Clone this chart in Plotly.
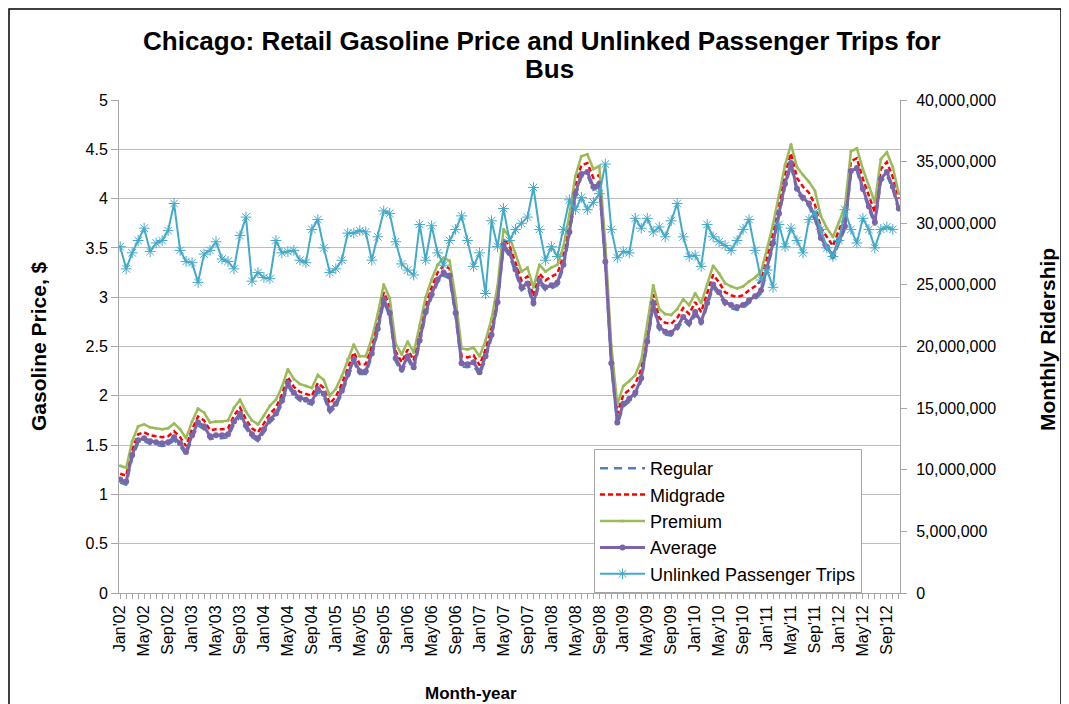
import plotly.graph_objects as go

# Month index 0 = Jan'02 ... 130 = Nov'12
average = [
    1.15, 1.13, 1.40, 1.55, 1.57, 1.54, 1.53, 1.52, 1.53, 1.58, 1.52, 1.43,
    1.60, 1.73, 1.69, 1.59, 1.60, 1.60, 1.61, 1.74, 1.82, 1.70, 1.61, 1.57,
    1.66, 1.76, 1.82, 1.95, 2.13, 2.03, 1.98, 1.96, 1.94, 2.07, 2.02, 1.86,
    1.92, 2.05, 2.22, 2.37, 2.25, 2.25, 2.43, 2.68, 2.98, 2.84, 2.38, 2.27,
    2.40, 2.29, 2.56, 2.85, 3.03, 3.18, 3.25, 3.22, 2.84, 2.33, 2.32, 2.34,
    2.24, 2.40, 2.62, 2.95, 3.53, 3.45, 3.28, 3.10, 3.14, 2.94, 3.17, 3.10,
    3.12, 3.15, 3.33, 3.66, 4.05, 4.25, 4.27, 4.12, 4.15, 3.36, 2.33, 1.73,
    1.92, 1.97, 2.03, 2.18, 2.55, 2.94, 2.70, 2.65, 2.64, 2.70, 2.80, 2.74,
    2.85, 2.75, 2.94, 3.13, 3.05, 2.95, 2.92, 2.90, 2.92, 2.97, 3.01, 3.07,
    3.30, 3.55, 3.85, 4.15, 4.36, 4.10, 4.01, 3.95, 3.82, 3.60, 3.51, 3.42,
    3.58, 3.72, 4.28, 4.31, 4.10, 3.92, 3.76, 4.20, 4.27, 4.12, 3.90,
]

regular = [
    1.12, 1.10, 1.37, 1.52, 1.54, 1.51, 1.50, 1.49, 1.50, 1.55, 1.49, 1.40,
    1.57, 1.70, 1.66, 1.56, 1.57, 1.57, 1.58, 1.71, 1.79, 1.67, 1.58, 1.54,
    1.63, 1.73, 1.79, 1.92, 2.10, 2.00, 1.95, 1.93, 1.91, 2.04, 1.99, 1.83,
    1.89, 2.02, 2.19, 2.34, 2.22, 2.22, 2.40, 2.65, 2.95, 2.81, 2.35, 2.24,
    2.37, 2.26, 2.53, 2.82, 3.00, 3.15, 3.22, 3.19, 2.81, 2.30, 2.29, 2.31,
    2.21, 2.37, 2.59, 2.92, 3.50, 3.42, 3.25, 3.07, 3.11, 2.91, 3.14, 3.07,
    3.09, 3.12, 3.30, 3.63, 4.02, 4.22, 4.24, 4.09, 4.12, 3.33, 2.30, 1.70,
    1.89, 1.94, 2.00, 2.15, 2.52, 2.91, 2.67, 2.62, 2.61, 2.67, 2.77, 2.71,
    2.82, 2.72, 2.91, 3.10, 3.02, 2.92, 2.89, 2.87, 2.89, 2.94, 2.98, 3.04,
    3.27, 3.52, 3.82, 4.12, 4.33, 4.07, 3.98, 3.92, 3.79, 3.57, 3.48, 3.39,
    3.55, 3.69, 4.25, 4.28, 4.07, 3.89, 3.73, 4.17, 4.24, 4.09, 3.87,
]

midgrade = [
    1.21, 1.19, 1.46, 1.61, 1.63, 1.60, 1.59, 1.58, 1.59, 1.64, 1.58, 1.49,
    1.66, 1.79, 1.75, 1.65, 1.66, 1.66, 1.67, 1.80, 1.88, 1.76, 1.67, 1.63,
    1.72, 1.82, 1.88, 2.01, 2.19, 2.09, 2.04, 2.02, 2.00, 2.13, 2.08, 1.92,
    1.99, 2.12, 2.29, 2.44, 2.32, 2.32, 2.50, 2.75, 3.05, 2.91, 2.45, 2.34,
    2.47, 2.36, 2.63, 2.92, 3.10, 3.25, 3.32, 3.29, 2.91, 2.40, 2.39, 2.41,
    2.31, 2.47, 2.69, 3.02, 3.60, 3.52, 3.35, 3.17, 3.21, 3.01, 3.24, 3.17,
    3.21, 3.24, 3.42, 3.75, 4.14, 4.34, 4.36, 4.21, 4.24, 3.45, 2.42, 1.82,
    2.01, 2.06, 2.12, 2.27, 2.64, 3.03, 2.79, 2.74, 2.73, 2.79, 2.89, 2.83,
    2.95, 2.85, 3.04, 3.23, 3.15, 3.05, 3.02, 3.00, 3.02, 3.07, 3.11, 3.17,
    3.40, 3.65, 3.95, 4.25, 4.46, 4.21, 4.12, 4.06, 3.94, 3.70, 3.61, 3.52,
    3.68, 3.82, 4.38, 4.41, 4.20, 4.02, 3.86, 4.30, 4.37, 4.22, 4.00,
]

premium = [
    1.29, 1.27, 1.54, 1.69, 1.71, 1.68, 1.67, 1.66, 1.67, 1.72, 1.66, 1.57,
    1.74, 1.87, 1.83, 1.73, 1.74, 1.74, 1.75, 1.88, 1.96, 1.84, 1.75, 1.71,
    1.80, 1.90, 1.96, 2.09, 2.27, 2.17, 2.12, 2.10, 2.08, 2.21, 2.16, 2.00,
    2.07, 2.20, 2.37, 2.52, 2.40, 2.40, 2.58, 2.83, 3.13, 2.99, 2.53, 2.42,
    2.55, 2.44, 2.71, 3.00, 3.18, 3.33, 3.40, 3.37, 2.99, 2.48, 2.47, 2.49,
    2.40, 2.56, 2.78, 3.11, 3.69, 3.61, 3.44, 3.26, 3.30, 3.10, 3.33, 3.26,
    3.30, 3.33, 3.51, 3.84, 4.23, 4.43, 4.45, 4.30, 4.33, 3.54, 2.51, 1.91,
    2.10, 2.15, 2.21, 2.36, 2.73, 3.12, 2.88, 2.83, 2.82, 2.88, 2.98, 2.92,
    3.04, 2.94, 3.13, 3.32, 3.24, 3.14, 3.11, 3.09, 3.11, 3.16, 3.20, 3.26,
    3.49, 3.74, 4.04, 4.34, 4.55, 4.32, 4.24, 4.17, 4.08, 3.82, 3.70, 3.61,
    3.76, 3.92, 4.48, 4.51, 4.30, 4.12, 3.96, 4.40, 4.47, 4.32, 4.05,
]

# Unlinked passenger trips, millions per month
trips_millions = [
    28.1, 26.3, 27.6, 28.6, 29.6, 27.7, 28.4, 28.6, 29.4, 31.6, 27.8, 26.9,
    26.8, 25.2, 27.5, 27.8, 28.5, 27.1, 26.9, 26.3, 29.0, 30.5, 25.3, 26.0,
    25.6, 25.5, 28.6, 27.6, 27.7, 27.8, 27.0, 26.8, 29.5, 30.3, 28.0, 26.0,
    26.3, 27.0, 29.2, 29.2, 29.4, 29.3, 27.0, 28.9, 31.0, 30.8, 28.5, 26.7,
    26.2, 25.8, 29.9, 27.0, 29.8, 27.6, 26.6, 28.6, 29.5, 30.6, 28.6, 26.5,
    27.6, 24.3, 30.2, 28.1, 31.2, 28.6, 29.5, 30.0, 30.5, 32.9, 29.5, 27.0,
    28.1, 27.3, 29.5, 31.9, 31.1, 32.1, 31.1, 31.7, 32.4, 34.8, 29.5, 27.2,
    27.7, 27.6, 30.4, 29.6, 30.4, 29.3, 29.7, 28.9, 30.2, 31.6, 28.9, 27.3,
    27.4, 26.5, 29.9, 28.9, 28.5, 28.2, 27.8, 28.6, 29.5, 30.3, 27.8, 25.4,
    26.2, 24.8, 29.9, 28.1, 29.6, 28.6, 27.6, 30.3, 30.9, 29.5, 28.0, 27.3,
    28.6, 31.1, 29.5, 28.4, 30.4, 29.5, 28.0, 29.5, 29.7, 29.5, None,
]

tick_labels = [
    "Jan'02", "May'02", "Sep'02", "Jan'03", "May'03", "Sep'03",
    "Jan'04", "May'04", "Sep'04", "Jan'05", "May'05", "Sep'05",
    "Jan'06", "May'06", "Sep'06", "Jan'07", "May'07", "Sep'07",
    "Jan'08", "May'08", "Sep'08", "Jan'09", "May'09", "Sep'09",
    "Jan'10", "May'10", "Sep'10", "Jan'11", "May'11", "Sep'11",
    "Jan'12", "May'12", "Sep'12",
]

n = len(average)
months = list(range(n))
tick_vals = list(range(0, 4 * len(tick_labels), 4))
trips = [None if v is None else v * 1e6 for v in trips_millions]

FONT = "Liberation Sans, Arial, sans-serif"

fig = go.Figure()
fig.add_trace(go.Scatter(
    x=months, y=regular, name="Regular", mode="lines",
    line=dict(color="#4F81BD", width=2.5, dash="8px,6px"),
))
fig.add_trace(go.Scatter(
    x=months, y=midgrade, name="Midgrade", mode="lines",
    line=dict(color="#FF0000", width=2.5, dash="5px,3px"),
))
fig.add_trace(go.Scatter(
    x=months, y=premium, name="Premium", mode="lines+markers",
    line=dict(color="#9BBB59", width=2.5),
    marker=dict(symbol="circle", size=3, color="#9BBB59"),
))
fig.add_trace(go.Scatter(
    x=months, y=average, name="Average", mode="lines+markers",
    line=dict(color="#7B64A8", width=3),
    marker=dict(symbol="circle", size=6, color="#7B64A8"),
))
fig.add_trace(go.Scatter(
    x=months, y=trips, name="Unlinked Passenger Trips", mode="lines+markers",
    yaxis="y2",
    line=dict(color="#44AACA", width=2),
    marker=dict(symbol="asterisk-open", size=9, color="#44AACA",
                line=dict(color="#44AACA", width=1)),
))

# The page body adds an 8px offset; figure coordinates = page coordinates - 8
OFF = 8
W, H = 1069 - OFF, 704 - OFF
PL, PR, PT, PB = 119, 900, 100, 593  # plot area on the page
L, R, T, B = PL - OFF, W - (PR - OFF), PT - OFF, H - (PB - OFF)
pw, ph = W - L - R, H - T - B


def px_x(px):
    return (px - OFF - L) / pw


def px_y(py):
    return (H - B - (py - OFF)) / ph


fig.update_layout(
    width=W, height=H,
    margin=dict(l=L, r=R, t=T, b=B, autoexpand=False),
    paper_bgcolor="white", plot_bgcolor="white",
    font=dict(family=FONT, size=16, color="black"),
    xaxis=dict(
        range=[-0.2, n - 1 + 0.2],
        tickmode="array", tickvals=tick_vals, ticktext=tick_labels,
        tickangle=-90, tickfont=dict(size=16),
        showgrid=False, zeroline=False,
        showline=True, linecolor="#A6A6A6", linewidth=1,
        ticks="outside", ticklen=5, tickcolor="#A6A6A6",
        minor=dict(ticks="outside", dtick=1, tick0=0, ticklen=5, tickcolor="#A6A6A6"),
    ),
    yaxis=dict(
        range=[0, 5], dtick=0.5, tick0=0,
        showgrid=True, gridcolor="#BDBDBD", gridwidth=1,
        zeroline=False,
        showline=True, linecolor="#A6A6A6", linewidth=1,
        ticks="outside", ticklen=7, tickcolor="#A6A6A6",
        tickfont=dict(size=16),
    ),
    yaxis2=dict(
        range=[0, 40e6], dtick=5e6, tick0=0, tickformat=",d",
        overlaying="y", side="right",
        showgrid=False, zeroline=False,
        showline=True, linecolor="#A6A6A6", linewidth=1,
        ticks="outside", ticklen=6, tickcolor="#A6A6A6",
        ticklabelstandoff=6,
        tickfont=dict(size=16),
    ),
    legend=dict(
        x=px_x(594), y=px_y(449), xanchor="left", yanchor="top",
        bgcolor="white", bordercolor="#A6A6A6", borderwidth=1,
        font=dict(family=FONT, size=18, color="black"),
        tracegroupgap=0, itemwidth=45,
    ),
    showlegend=True,
)

fig.add_annotation(
    text="<b>Chicago: Retail Gasoline Price and Unlinked Passenger Trips for</b>",
    xref="paper", yref="paper", x=px_x(542), y=px_y(41),
    xanchor="center", yanchor="middle", showarrow=False,
    font=dict(family=FONT, size=26, color="black"),
)
fig.add_annotation(
    text="<b>Bus</b>",
    xref="paper", yref="paper", x=px_x(549), y=px_y(69),
    xanchor="center", yanchor="middle", showarrow=False,
    font=dict(family=FONT, size=26, color="black"),
)
fig.add_annotation(
    text="<b>Gasoline Price, $</b>", textangle=-90,
    xref="paper", yref="paper", x=px_x(38), y=px_y(346),
    xanchor="center", yanchor="middle", showarrow=False,
    font=dict(family=FONT, size=21, color="black"),
)
fig.add_annotation(
    text="<b>Monthly Ridership</b>", textangle=-90,
    xref="paper", yref="paper", x=px_x(1047), y=px_y(340),
    xanchor="center", yanchor="middle", showarrow=False,
    font=dict(family=FONT, size=21, color="black"),
)
fig.add_annotation(
    text="<b>Month-year</b>",
    xref="paper", yref="paper", x=px_x(471), y=px_y(693),
    xanchor="center", yanchor="middle", showarrow=False,
    font=dict(family=FONT, size=17, color="black"),
)
fig.add_shape(
    type="rect", xref="paper", yref="paper",
    x0=px_x(9), x1=px_x(1061), y0=px_y(720), y1=px_y(9),
    line=dict(color="black", width=1.5), fillcolor="rgba(0,0,0,0)", layer="below",
)

fig.write_html("out.html")
